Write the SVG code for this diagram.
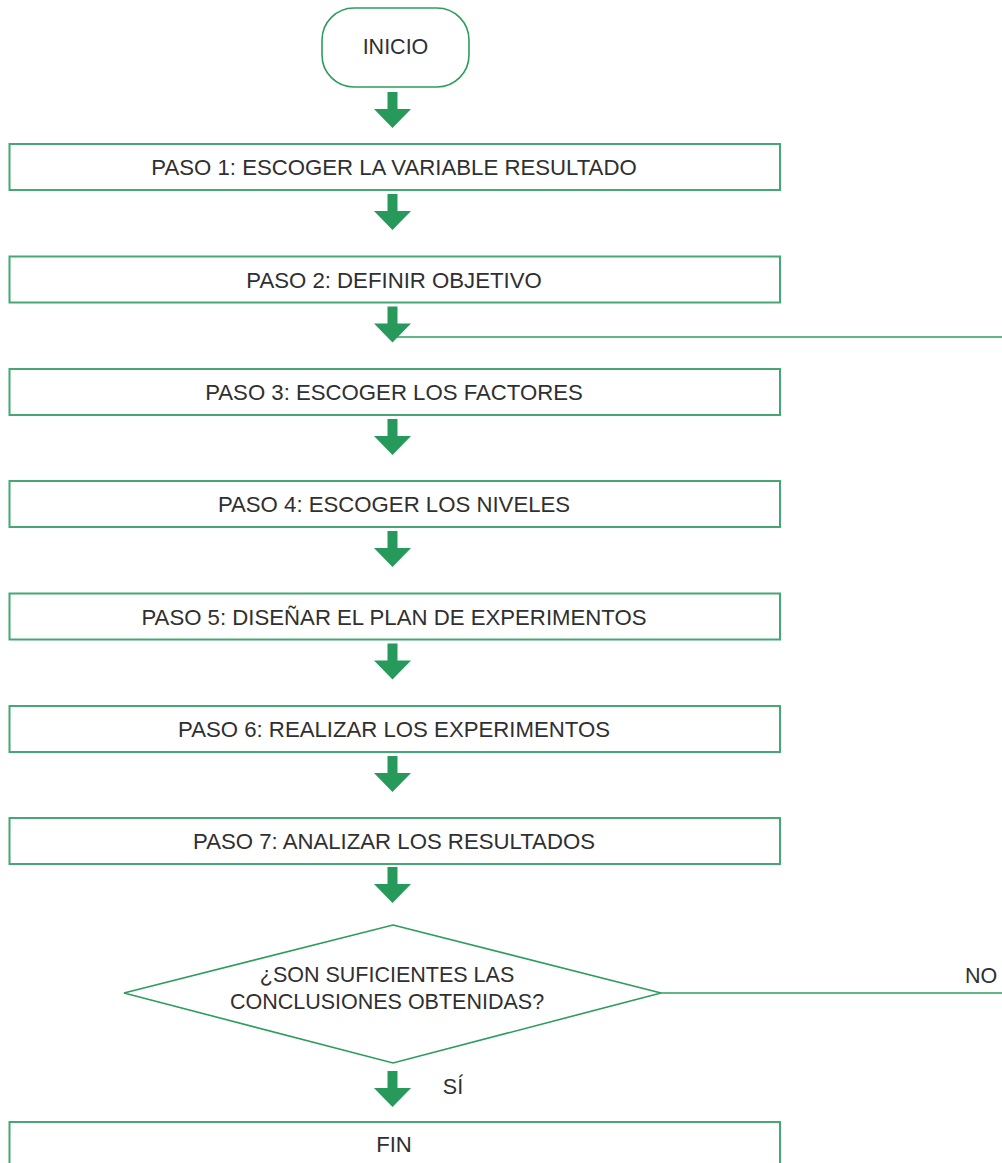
<svg xmlns="http://www.w3.org/2000/svg" width="1002" height="1163" viewBox="0 0 1002 1163">
  <style>
    .box { fill: #ffffff; stroke: #45a872; stroke-width: 2; }
    .shape { fill: #ffffff; stroke: #2e9c5c; stroke-width: 1.6; }
    .line { fill: none; stroke: #2e9c5c; stroke-width: 1.6; }
    .arrow { fill: #279a5b; }
    text { font-family: "Liberation Sans", Arial, sans-serif; font-size: 22.2px; fill: #303030; text-anchor: middle; }
    .small { font-size: 21.5px; }
  </style>
  <defs>
    <!-- block down arrow used between steps -->
    <path id="down" d="M-5,0 H5 V17 H18.5 L0,36 L-18.5,17 H-5 Z"/>
  </defs>

  <rect width="1002" height="1163" fill="#ffffff"/>

  <g id="connectors">
    <use href="#down" class="arrow" x="392.5" y="92"/>
    <use href="#down" class="arrow" x="392.5" y="194"/>
    <use href="#down" class="arrow" x="392.5" y="306.5"/>
    <use href="#down" class="arrow" x="392.5" y="419"/>
    <use href="#down" class="arrow" x="392.5" y="531"/>
    <use href="#down" class="arrow" x="392.5" y="643.5"/>
    <use href="#down" class="arrow" x="392.5" y="756"/>
    <use href="#down" class="arrow" x="392.5" y="867"/>
    <use href="#down" class="arrow" x="392.5" y="1071"/>
    <!-- loop back from NO to step 3 -->
    <line class="line" x1="397" y1="337" x2="1002" y2="337"/>
    <line class="line" x1="661" y1="993" x2="1002" y2="993"/>
    <text class="small" x="981" y="983">NO</text>
    <text class="small" x="453" y="1094">SÍ</text>
  </g>

  <g id="inicio">
    <rect class="shape" x="322" y="8" width="147" height="79" rx="32" ry="32"/>
    <text class="small" x="395.5" y="54">INICIO</text>
  </g>

  <g id="paso1">
    <rect class="box" x="9.5" y="144" width="770.5" height="46"/>
    <text x="394" y="175">PASO 1: ESCOGER LA VARIABLE RESULTADO</text>
  </g>

  <g id="paso2">
    <rect class="box" x="9.5" y="256.5" width="770.5" height="46"/>
    <text x="394" y="287.5">PASO 2: DEFINIR OBJETIVO</text>
  </g>

  <g id="paso3">
    <rect class="box" x="9.5" y="369" width="770.5" height="46"/>
    <text x="394" y="400">PASO 3: ESCOGER LOS FACTORES</text>
  </g>

  <g id="paso4">
    <rect class="box" x="9.5" y="481" width="770.5" height="46"/>
    <text x="394" y="512">PASO 4: ESCOGER LOS NIVELES</text>
  </g>

  <g id="paso5">
    <rect class="box" x="9.5" y="593.5" width="770.5" height="46"/>
    <text x="394" y="624.5">PASO 5: DISEÑAR EL PLAN DE EXPERIMENTOS</text>
  </g>

  <g id="paso6">
    <rect class="box" x="9.5" y="706" width="770.5" height="46"/>
    <text x="394" y="737">PASO 6: REALIZAR LOS EXPERIMENTOS</text>
  </g>

  <g id="paso7">
    <rect class="box" x="9.5" y="818" width="770.5" height="46"/>
    <text x="394" y="849">PASO 7: ANALIZAR LOS RESULTADOS</text>
  </g>

  <g id="decision">
    <polygon class="shape" points="393,925 661,993 393,1063 124,993"/>
    <text class="small" x="387" y="982">¿SON SUFICIENTES LAS</text>
    <text class="small" x="387" y="1009">CONCLUSIONES OBTENIDAS?</text>
  </g>

  <g id="fin">
    <rect class="box" x="9.5" y="1122" width="770.5" height="50"/>
    <text x="394" y="1152">FIN</text>
  </g>
</svg>
